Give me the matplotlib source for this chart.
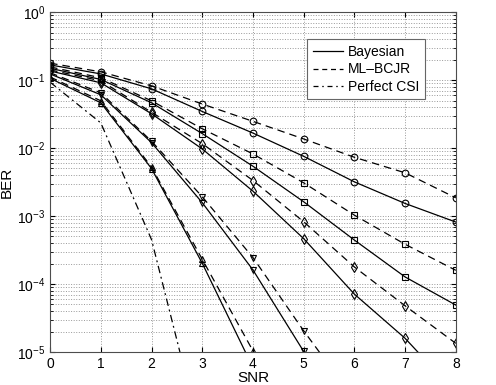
import numpy as np
import matplotlib
matplotlib.use('Agg')
import matplotlib.pyplot as plt
from matplotlib.lines import Line2D

plt.rcParams['font.family'] = ['Liberation Sans', 'DejaVu Sans']

snr = [0, 1, 2, 3, 4, 5, 6, 7, 8]

# Bayesian (solid), BER values
bay_o = [0.167, 0.123, 0.0743, 0.0345, 0.0166, 0.00755, 0.00318, 0.00153, 0.000815]
bay_s = [0.149, 0.102, 0.0463, 0.0163, 0.0054, 0.00162, 0.000443, 0.000127, 4.9e-05]
bay_d = [0.136, 0.091, 0.0319, 0.0097, 0.00232, 0.000465, 7.1e-05, 1.59e-05, 2.5e-06]
bay_v = [0.123, 0.0607, 0.012, 0.00157, 0.000161, 1.02e-05, 6.3e-07]
bay_t = [0.106, 0.0463, 0.00499, 0.000202, 5.9e-06]

# ML-BCJR (dashed)
ml_o = [0.177, 0.132, 0.0822, 0.0444, 0.0247, 0.0136, 0.00731, 0.00432, 0.00185]
ml_s = [0.156, 0.108, 0.0495, 0.0192, 0.00818, 0.00308, 0.00103, 0.000384, 0.000159]
ml_d = [0.141, 0.0973, 0.0336, 0.0116, 0.00333, 0.000824, 0.000178, 4.78e-05, 1.34e-05]
ml_v = [0.128, 0.0649, 0.0126, 0.00192, 0.000245, 2.05e-05, 2.0e-06]
ml_t = [0.111, 0.0495, 0.00525, 0.000231, 1.04e-05]

# Perfect CSI (dash-dot)
csi = [0.093, 0.0234, 0.00045, 5.0e-07]

fig = plt.figure(figsize=(4.96, 3.85), dpi=100)
ax = fig.add_axes([0.101, 0.0857, 0.818, 0.883])

mk = dict(color='k', lw=0.9, ms=4.8, mfc='none', mew=0.8)
dsh = (6, 4)
dashdot = (6, 3, 1.5, 3)

ax.semilogy(snr, bay_o, '-o', **mk)
ax.semilogy(snr, bay_s, '-s', **mk)
ax.semilogy(snr, bay_d, '-d', **mk)
ax.semilogy(snr[:len(bay_v)], bay_v, '-v', **mk)
ax.semilogy(snr[:len(bay_t)], bay_t, '-^', **mk)

ax.semilogy(snr, ml_o, '--o', dashes=dsh, **mk)
ax.semilogy(snr, ml_s, '--s', dashes=dsh, **mk)
ax.semilogy(snr, ml_d, '--d', dashes=dsh, **mk)
ax.semilogy(snr[:len(ml_v)], ml_v, '--v', dashes=dsh, **mk)
ax.semilogy(snr[:len(ml_t)], ml_t, '--^', dashes=dsh, **mk)

ax.semilogy(snr[:len(csi)], csi, '-.', dashes=dashdot, color='k', lw=0.9)

ax.set_xlim(0, 8)
ax.set_ylim(1e-5, 1)
ax.set_xticks(snr)
ax.grid(True, which='major', linestyle=':', color='0.6', lw=0.7)
ax.grid(True, which='minor', axis='y', linestyle=':', color='0.6', lw=0.7)
ax.tick_params(which='both', direction='in', top=True, right=True, labelsize=10)
for s in ax.spines.values():
    s.set_color('0.3')

ax.set_xlabel('SNR', fontsize=11, labelpad=0)
ax.set_ylabel('BER', fontsize=11, labelpad=2)

handles = [Line2D([], [], color='k', lw=0.9, ls='-'),
           Line2D([], [], color='k', lw=0.9, ls='--', dashes=(4, 3)),
           Line2D([], [], color='k', lw=0.9, ls='-.', dashes=(4, 3, 1.2, 3))]
leg = ax.legend(handles, ['Bayesian', 'ML\u2013BCJR', 'Perfect CSI'],
                loc='upper right', bbox_to_anchor=(0.94, 0.94), fontsize=10,
                fancybox=False, framealpha=1, edgecolor='0.4',
                handlelength=2.2, borderpad=0.4, labelspacing=0.25, handletextpad=0.3)
leg.get_frame().set_linewidth(0.8)

plt.savefig('out.png', dpi=100)
